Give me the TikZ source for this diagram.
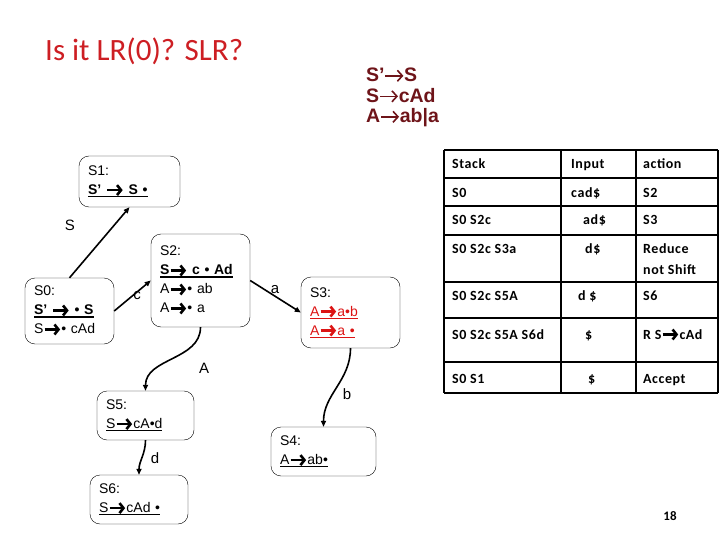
\documentclass[tikz,border=0pt]{standalone}
\usepackage{fontspec}
\setmainfont{Liberation Sans}
\newfontfamily\slidefont{Carlito}
\newfontfamily\tablefont[LetterSpace=4]{Carlito}
\usetikzlibrary{arrows.meta}
\definecolor{titlered}{RGB}{205,30,35}
\definecolor{itemred}{RGB}{220,20,20}
\definecolor{grammarred}{RGB}{110,20,25}

% heavy arrow used in the items, thin one in the grammar
\newcommand{\rarr}{\tikz[x=1pt,y=1pt,baseline=0pt]
  \draw[line width=2.6pt,-{Straight Barb[length=4pt,width=10pt]}] (0.5,4.5) -- (16,4.5);}
\newcommand{\thinarr}{\tikz[x=1pt,y=1pt,baseline=0pt]
  \draw[line width=1.6pt,-{Straight Barb[length=5pt,width=11pt]}] (1,6) -- (19,6);}
\newcommand{\uitem}[1]{\setbox0\hbox{#1}\leavevmode\rlap{\rule[-2.6pt]{\wd0}{1.1pt}}\box0}

\begin{document}
\begin{tikzpicture}[x=1pt, y=-1pt,
  itemset/.style={draw, thin, rounded corners=10pt, align=left, inner xsep=9pt,
                  inner ysep=0pt, font=\fontsize{14}{19}\selectfont},
  trans/.style={-{Triangle[length=6pt,width=5pt]}, line width=1.6pt},
  elabel/.style={inner sep=0pt, font=\fontsize{15}{17}\selectfont},
  tablerule/.style={line width=1.8pt},
  cellt/.style={anchor=base west, inner sep=0pt,
                font=\tablefont\bfseries\fontsize{14}{21}\selectfont}
]
  \useasboundingbox (0,0) rectangle (720,540);

  % title and grammar
  \node[anchor=base west, inner sep=0pt, text=titlered,
        font=\slidefont\fontsize{31}{36}\selectfont] (title) at (45,61) {Is it LR(0)? SLR?};
  \node[anchor=north west, inner sep=0pt, align=left, text=grammarred,
        font=\bfseries\fontsize{19.5}{20.5}\selectfont] (gram) at (366,68)
       {S’\thinarr S\\S\thinarr cAd\\A\thinarr ab|a};

  % item sets
  \node[itemset, text width=83pt, minimum height=51pt] (s1) at (129.5,181.5)
       {S1:\\\uitem{\textbf{S’ \rarr\ S •}}};
  \node[itemset, text width=71pt, minimum height=66pt] (s0) at (69.5,311)
       {S0:\\\uitem{\textbf{S' \rarr\ • S}}\\S\rarr• cAd};
  \node[itemset, text width=81pt, minimum height=93pt] (s2) at (200.5,280.5)
       {S2:\\\uitem{\textbf{S\rarr\ c • Ad}}\\A\rarr• ab\\A\rarr• a};
  \node[itemset, text width=81pt, minimum height=71pt] (s3) at (350.5,312.5)
       {S3:\\\color{itemred}\uitem{A\rarr a•b}\\\color{itemred}\uitem{A\rarr a •}};
  \node[itemset, text width=79pt, minimum height=49pt] (s5) at (145.5,415.5)
       {S5:\\\uitem{S\rarr cA•d}};
  \node[itemset, text width=80pt, minimum height=49pt] (s6) at (139,499.5)
       {S6:\\\uitem{S\rarr cAd •}};
  \node[itemset, text width=87pt, minimum height=49pt] (s4) at (323.5,451.5)
       {S4:\\\uitem{A\rarr ab•}};

  % transitions
  \draw[trans] (s0.north) -- (s1.south);
  \draw[trans] (s0.east) -- (s2.west);
  \draw[trans] (s2.east) -- (s3.west);
  \draw[trans] (s2.south) to[out=-90, in=90] (s5.north);
  \draw[trans] (s3.south) to[out=-90, in=90] (s4.north);
  \draw[trans] (s5.south) to[out=-90, in=90] (s6.north);

  \node[elabel] (lS) at (70,225) {S};
  \node[elabel] (lc) at (137,296) {c};
  \node[elabel] (la) at (275,290) {a};
  \node[elabel] (lA) at (204,368) {A};
  \node[elabel] (lb) at (347,394) {b};
  \node[elabel] (ld) at (155,458) {d};

  % parse table
  \foreach \y in {150,178,206,235,282,318,362,393}
    \draw[tablerule] (444,\y) -- (718,\y);
  \foreach \x in {444,561,636,718}
    \draw[tablerule] (\x,150) -- (\x,393);

  \node[cellt] (h1) at (452,169) {Stack};
  \node[cellt] (h2) at (571,169) {Input};
  \node[cellt] (h3) at (643,169) {action};
  \node[cellt] (r1a) at (452,197) {S0};
  \node[cellt] (r1b) at (571,197) {cad\$};
  \node[cellt] (r1c) at (643,197) {S2};
  \node[cellt] (r2a) at (452,225) {S0 S2c};
  \node[cellt] (r2b) at (583,225) {ad\$};
  \node[cellt] (r2c) at (643,225) {S3};
  \node[cellt] (r3a) at (452,254) {S0 S2c S3a};
  \node[cellt] (r3b) at (585,254) {d\$};
  \node[cellt, align=left, anchor=north west] (r3c) at (643,243) {Reduce\\not Shift};
  \node[cellt] (r4a) at (452,300) {S0 S2c S5A};
  \node[cellt] (r4b) at (578,300) {d \$};
  \node[cellt] (r4c) at (643,300) {S6};
  \node[cellt] (r5a) at (452,339) {S0 S2c S5A S6d};
  \node[cellt] (r5b) at (585,339) {\$};
  \node[cellt] (r5c) at (643,339) {R S\rarr cAd};
  \node[cellt] (r6a) at (452,383) {S0 S1};
  \node[cellt] (r6b) at (588,383) {\$};
  \node[cellt] (r6c) at (643,383) {Accept};

  \node[inner sep=0pt, font=\slidefont\bfseries\fontsize{13}{15}\selectfont] (pnum) at (670,516) {18};
\end{tikzpicture}
\end{document}
